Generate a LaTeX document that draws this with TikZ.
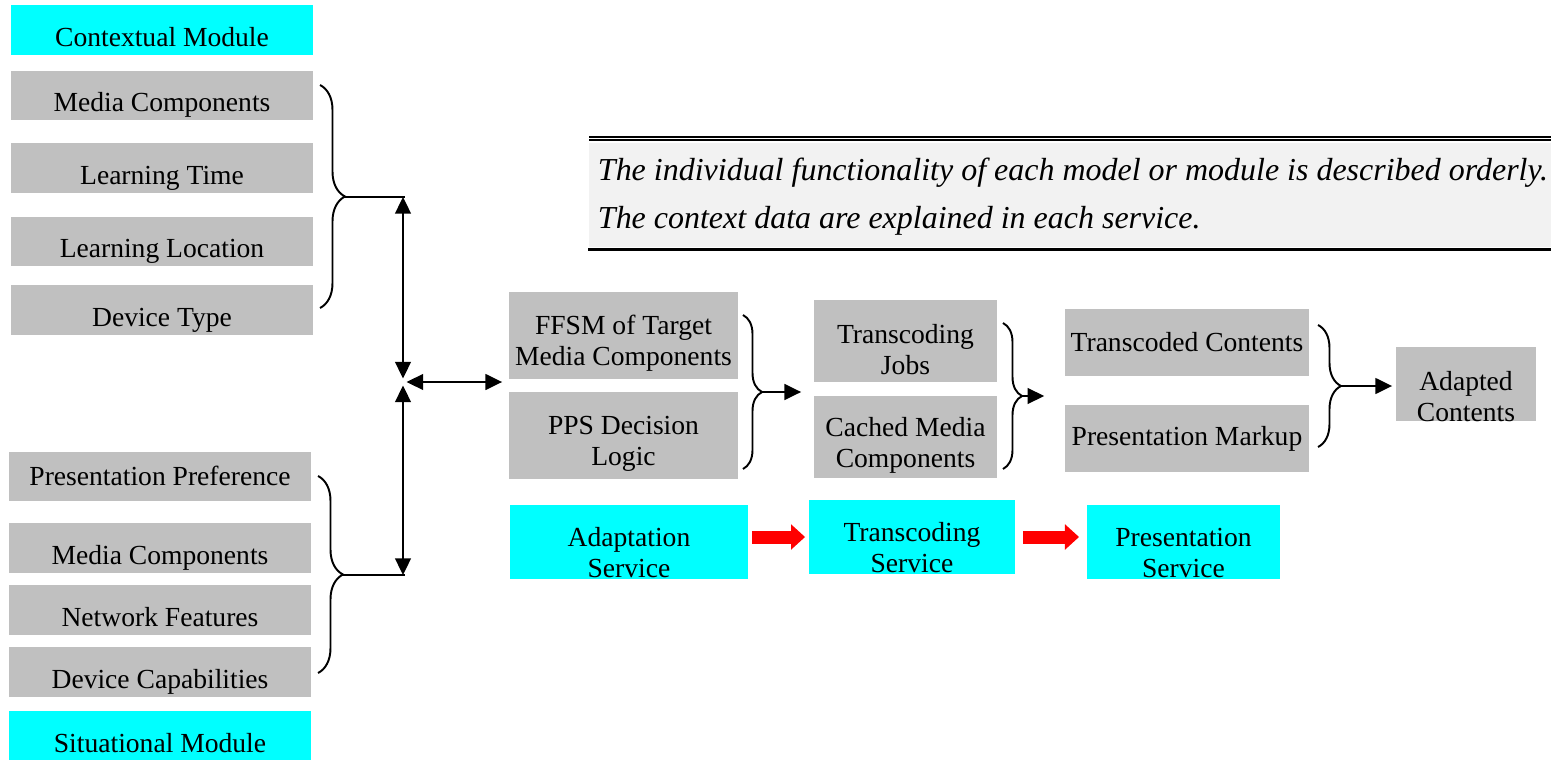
\documentclass[tikz,border=0pt]{standalone}
\usepackage{fontspec}
\setmainfont{Liberation Serif}
\usetikzlibrary{arrows.meta,calc,decorations.pathreplacing}
\definecolor{boxgray}{RGB}{192,192,192}
\definecolor{modcyan}{RGB}{0,255,255}
\definecolor{notegray}{RGB}{242,242,242}

\begin{document}
\begin{tikzpicture}[x=0.02cm,y=-0.02cm,line width=1.1pt,
	>={Triangle[length=9.5pt,width=9pt]},
	every node/.style={font=\fontsize{15.7}{17.6}\selectfont,align=center,inner sep=0pt},
	lbox/.style={fill=boxgray,minimum width=6.04cm,minimum height=1cm,text height=18.6pt,text depth=0pt},
	modbox/.style={lbox,fill=modcyan},
	gbox/.style={fill=boxgray,text height=#1},
	sbox/.style={fill=modcyan,minimum height=1.48cm,text height=40.8pt},
	rbrace/.style={decorate,decoration={brace,amplitude=#1}},
	redarrow/.style={draw=red,line width=7.4pt,-{Triangle[length=8pt,width=14pt]}},
	notetext/.style={anchor=base west,font=\fontsize{18.2}{20}\selectfont\itshape}]
	\useasboundingbox (0,0) rectangle (1551,760);
	
	% contextual module
	\node[modbox] (ctxmod) at (162,30) {Contextual Module};
	\node[lbox] (mcomp) at (162,95.5) {Media Components};
	\node[lbox] (ltime) at (162,168) {Learning Time};
	\node[lbox] (lloc) at (162,241.5) {Learning Location};
	\node[lbox] (dtype) at (162,310) {Device Type};
	
	% situational module
	\node[lbox,text height=10.8pt] (ppref) at (160,476.5) {Presentation Preference};
	\node[lbox] (mcompb) at (160,548) {Media Components};
	\node[lbox] (netf) at (160,610) {Network Features};
	\node[lbox] (devcap) at (160,672) {Device Capabilities};
	\node[modbox] (sitmod) at (160,736) {Situational Module};
	
	\draw[rbrace=0.5cm] (320,85)--(320,308);
	\draw[rbrace=0.5cm] (318,476)--(318,673);
	
	\coordinate (ctxtip) at (345,197);
	\coordinate (ctxjoin) at (405,197);
	\coordinate (sittip) at (343,575);
	\coordinate (sitjoin) at (405,575);
	\coordinate (hub) at (403,382);
	
	\draw (ctxtip)--(ctxjoin);
	\draw (sittip)--(sitjoin);
	\draw[<->,shorten >=2pt] (ctxjoin -| hub)--(hub);
	\draw[<->,shorten <=2pt] (hub)--(sitjoin -| hub);
	
	% services
	\node[gbox=37.4pt,minimum width=4.58cm,minimum height=1.74cm] (ffsm) at (623.5,335.5) {FFSM of Target\\Media Components};
	\node[gbox=37.4pt,minimum width=4.58cm,minimum height=1.74cm] (pps) at (623.5,435.5) {PPS Decision\\Logic};
	\node[gbox=38.5pt,minimum width=3.66cm,minimum height=1.64cm] (tjobs) at (905.5,341) {Transcoding\\Jobs};
	\node[gbox=38.5pt,minimum width=3.66cm,minimum height=1.64cm] (cmedia) at (905.5,437) {Cached Media\\Components};
	\node[fill=boxgray,minimum width=4.88cm,minimum height=1.34cm] (tcont) at (1187,342.5) {Transcoded Contents};
	\node[fill=boxgray,minimum width=4.88cm,minimum height=1.34cm] (pmark) at (1187,438.5) {Presentation Markup};
	\node[gbox=42.5pt,minimum width=2.8cm,minimum height=1.48cm] (adapted) at (1466,384) {Adapted\\Contents};
	
	\draw[<->,shorten <=2pt,shorten >=3.4pt] (hub)--(hub -| ffsm.west);
	
	\draw[rbrace=0.38cm] (743,315)--(743,469);
	\draw[rbrace=0.38cm] (1003,323)--(1003,469);
	\draw[rbrace=0.46cm] (1318,325)--(1318,447);
	
	\coordinate (ffsmtip) at (762,392);
	\coordinate (tjobstip) at (1022,396);
	\coordinate (tconttip) at (1341,386);
	\draw[->,shorten >=6.8pt] (ffsmtip)--(ffsmtip -| tjobs.west);
	\draw[->,shorten >=11.3pt] (tjobstip)--(tjobstip -| tcont.west);
	\draw[->,shorten >=1.7pt] (tconttip)--(tconttip -| adapted.west);
	
	\node[sbox,minimum width=4.76cm] (adserv) at (629,542) {Adaptation\\Service};
	\node[sbox,minimum width=4.12cm] (trserv) at (912,537) {Transcoding\\Service};
	\node[sbox,minimum width=3.86cm] (prserv) at (1183.5,542) {Presentation\\Service};
	
	\draw[redarrow,shorten <=1.7pt,shorten >=1.7pt] (adserv.east |- trserv.west)--(trserv.west);
	\draw[redarrow,shorten <=4pt,shorten >=4pt] (trserv.east)--(trserv.east -| prserv.west);
	
	% note
	\node[fill=notegray,minimum width=19.26cm,minimum height=2.08cm,anchor=north west] (note) at (588,142) {};
	\draw ($(note.north west)+(1,-5)$)--($(note.north east)+(0,-5)$);
	\draw ($(note.north west)+(1,-2)$)--($(note.north east)+(0,-2)$);
	\draw[line width=2pt] ($(note.south west)+(0,1.5)$)--($(note.south east)+(0,1.5)$);
	\node[notetext] (noteone) at (597,181) {The individual functionality of each model or module is described orderly.};
	\node[notetext] (notetwo) at (597,229) {The context data are explained in each service.};
\end{tikzpicture}
\end{document}
